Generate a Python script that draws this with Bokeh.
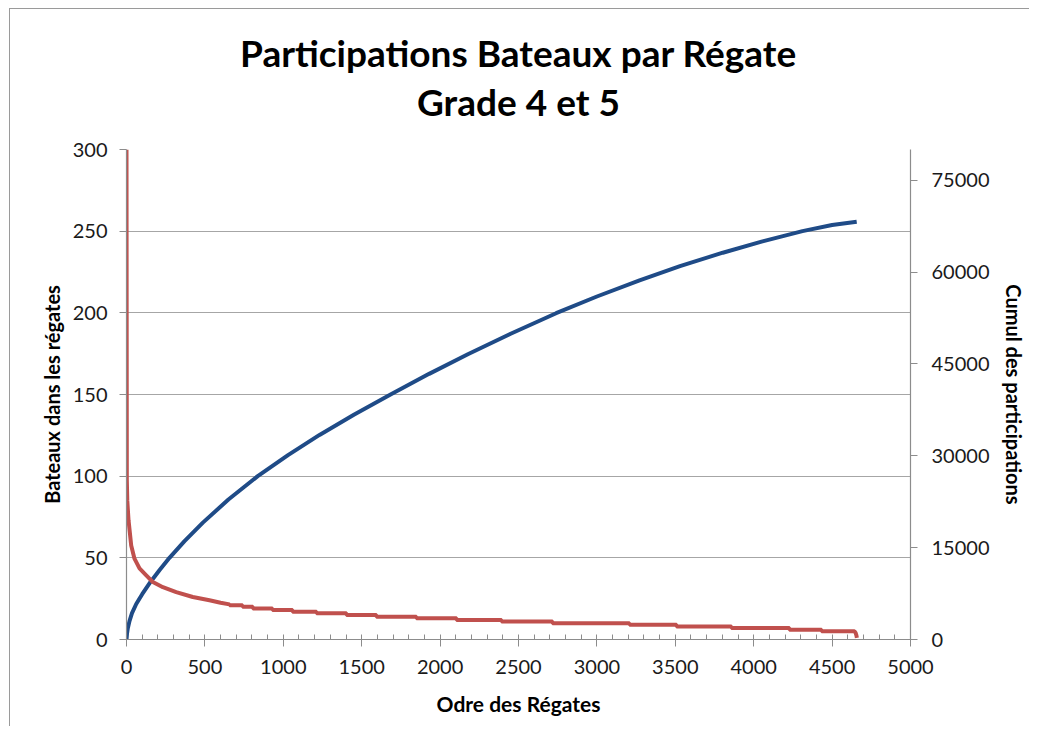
from bokeh.plotting import figure
from bokeh.models import Range1d, LinearAxis, SingleIntervalTicker, FixedTicker, Title
from bokeh.embed import file_html
from bokeh.resources import INLINE

# ---- data ----
# red: boats per regatta (sorted descending), read points incl. step corners
red_x = [0, 1, 2, 5, 13, 30, 51, 83, 126, 168, 232, 317, 423, 529, 600, 657,
         657, 740, 740, 806, 806, 931, 931, 1059, 1059, 1212, 1212, 1403, 1403, 1594,
         1594, 1849, 1849, 2105, 2105, 2392, 2392, 2717, 2717, 3208, 3208, 3508,
         3508, 3858, 3858, 4228, 4228, 4433, 4433, 4643, 4650, 4655, 4658]
red_y = [300, 200, 98, 85, 73, 57.5, 49.5, 43.5, 39.3, 35.2, 32, 29, 26, 24, 22.5, 21.5,
         21, 21, 20, 20, 19, 19, 18, 18, 17, 17, 16, 16, 15, 15,
         14, 14, 13, 13, 12, 12, 11, 11, 10, 10, 9, 9,
         8, 8, 7, 7, 6, 6, 5, 5, 4, 2.5, 1]

# blue: cumulative participations
blue_x = [0, 3, 8, 19, 35, 62, 100, 153, 210, 274, 370, 487, 650, 837, 1030, 1231,
          1450, 1684, 1930, 2177, 2450, 2740, 3000, 3272, 3530, 3803, 4050, 4311,
          4500, 4657]
blue_y = [0, 900, 1800, 3000, 4300, 5800, 7400, 9400, 11300, 13333, 16050, 19080,
          22850, 26667, 30100, 33400, 36700, 40000, 43370, 46570, 49910, 53270, 56000,
          58650, 60950, 63150, 64950, 66670, 67670, 68220]

title_1 = "Participations Bateaux par Régate"
title_2 = "Grade 4 et 5"
x_label = "Odre des Régates"
y_label = "Bateaux dans les régates"
y2_label = "Cumul des participations"

FONT = "Lato"
GRID = "#a6a6a6"
AXIS = "#8c8c8c"
TXT = "#1a1a1a"

p = figure(width=1020, height=718, output_backend="svg", toolbar_location=None,
           x_range=Range1d(0, 5000), y_range=Range1d(0, 300),
           min_border_left=116, min_border_right=120, min_border_top=140,
           min_border_bottom=88, background_fill_color="white",
           border_fill_color="white")
p.outline_line_color = None
p.styles = {"border-top": "1px solid #9a9a9a", "border-left": "1px solid #9a9a9a",
            "margin-left": "9px", "margin-top": "8px"}

p.extra_y_ranges = {"right": Range1d(0, 80000)}

xa = p.below[0]
ya = p.left[0]

# second title line: label of an invisible axis above the frame
ta = LinearAxis(ticker=FixedTicker(ticks=[]), axis_label=title_2)
ta.axis_line_color = None
ta.major_tick_line_color = None
ta.minor_tick_line_color = None
ta.major_label_text_font_size = "0px"
ta.axis_label_text_font = FONT
ta.axis_label_text_font_style = "bold"
ta.axis_label_text_font_size = "37px"
ta.axis_label_text_color = "black"
ta.axis_label_standoff = 26
p.add_layout(ta, "above")

# first title line
p.add_layout(Title(text=title_1, align="center", text_font=FONT, text_font_style="bold",
                   text_font_size="37px", text_color="black", standoff=2),
             "above")

# grid
p.xgrid.visible = False
p.ygrid.ticker = SingleIntervalTicker(interval=50)
p.ygrid.grid_line_color = GRID
p.ygrid.grid_line_width = 1.2

# x axis
xa.ticker = SingleIntervalTicker(interval=500, num_minor_ticks=5)
xa.axis_label = x_label
xa.major_tick_out = 7
xa.major_tick_in = 3
xa.minor_tick_in = 5
xa.minor_tick_out = 0

# left axis
ya.ticker = SingleIntervalTicker(interval=50)
ya.axis_label = y_label
ya.major_tick_out = 7
ya.major_tick_in = 0

# right axis
ra = LinearAxis(y_range_name="right", ticker=SingleIntervalTicker(interval=15000),
                axis_label=y2_label)
ra.major_tick_out = 7
ra.major_tick_in = 0
p.add_layout(ra, "right")

for ax in [xa, ya, ra]:
    ax.axis_line_color = AXIS
    ax.axis_line_width = 1.2
    ax.major_tick_line_color = AXIS
    ax.minor_tick_line_color = AXIS if ax is xa else None
    ax.major_label_text_font = FONT
    ax.major_label_text_font_size = "20px"
    ax.major_label_text_color = TXT
    ax.axis_label_text_font = FONT
    ax.axis_label_text_font_style = "bold"
    ax.axis_label_text_font_size = "20px"
    ax.axis_label_text_color = "black"

xa.major_label_standoff = 13
xa.axis_label_standoff = 14
xa.axis_label_text_font_size = "21px"
ya.major_label_standoff = 12
ya.axis_label_standoff = 6
ra.major_label_standoff = 14
ra.axis_label_standoff = 9

# series
p.line(blue_x, blue_y, y_range_name="right", line_color="#1F4B87", line_width=4)
p.line(red_x, red_y, line_color="#C0504D", line_width=4)

open("out.html", "w").write(file_html(p, INLINE))
